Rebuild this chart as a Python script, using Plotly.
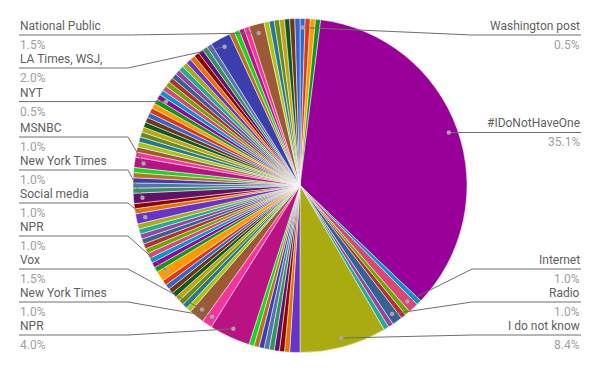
import math
import plotly.graph_objects as go

# ---------------- data ----------------
answers = [
    "Washington post", "Answer 2", "Answer 3", "Answer 4", "#IDoNotHaveOne",
    "Answer 6", "Internet", "Answer 8", "Answer 9", "Radio",
    "Answer 11", "Answer 12", "I do not know", "Answer 14", "Answer 15",
    "Answer 16", "Answer 17", "Answer 18", "Answer 19", "Answer 20",
    "Answer 21", "Answer 22", "NPR", "New York Times", "Vox",
    "Answer 26", "Answer 27", "Answer 28", "Answer 29", "Answer 30",
    "Answer 31", "Answer 32", "Answer 33", "NPR ", "Answer 35",
    "Answer 36", "Answer 37", "Answer 38", "Answer 39", "Answer 40",
    "Answer 41", "Answer 42", "Answer 43", "Answer 44", "Social media",
    "Answer 46", "Answer 47", "New York Times ", "Answer 49", "Answer 50",
    "Answer 51", "Answer 52", "Answer 53", "MSNBC", "Answer 55",
    "Answer 56", "Answer 57", "Answer 58", "Answer 59", "Answer 60",
    "Answer 61", "Answer 62", "Answer 63", "Answer 64", "Answer 65",
    "Answer 66", "NYT", "Answer 68", "Answer 69", "Answer 70",
    "Answer 71", "Answer 72", "Answer 73", "Answer 74", "Answer 75",
    "Answer 76", "Answer 77", "Answer 78", "Answer 79", "Answer 80",
    "Answer 81", "LA Times, WSJ,", "Answer 83", "Answer 84", "Answer 85",
    "Answer 86", "National Public", "Answer 88", "Answer 89", "Answer 90",
    "Answer 91", "Answer 92", "Answer 93", "Answer 94",
]
counts = [
    1, 1, 1, 1, 71,
    1, 2, 1, 1, 2,
    1, 1, 17, 2, 1,
    1, 1, 1, 1, 1,
    1, 1, 8, 2, 3,
    1, 1, 1, 1, 1,
    1, 1, 1, 2, 1,
    1, 1, 1, 1, 1,
    1, 1, 1, 1, 2,
    1, 1, 2, 1, 1,
    1, 1, 1, 2, 1,
    1, 1, 1, 1, 1,
    1, 1, 1, 1, 1,
    1, 1, 1, 1, 1,
    1, 1, 1, 1, 1,
    1, 1, 1, 1, 1,
    1, 4, 1, 1, 1,
    1, 3, 1, 1, 1,
    1, 1, 1, 1,
]
labeled = [
    "Washington post", "#IDoNotHaveOne", "Internet", "Radio", "I do not know",
    "NPR", "New York Times", "Vox", "NPR ", "Social media", "New York Times ",
    "MSNBC", "NYT", "LA Times, WSJ,", "National Public",
]

palette = [
    "#3366cc", "#dc3912", "#ff9900", "#109618", "#990099", "#0099c6", "#dd4477",
    "#66aa00", "#b82e2e", "#316395", "#994499", "#22aa99", "#aaaa11", "#6633cc",
    "#e67300", "#8b0707", "#651067", "#329262", "#5574a6", "#3b3eac", "#b77322",
    "#16d620", "#b91383", "#f4359e", "#9c5935", "#a9c413", "#2a778d", "#668d1c",
    "#bea413", "#0c5922", "#743411",
]

# ---------------- geometry ----------------
W, H = 600, 371
cx, cy, R = 300.0, 185.5, 167.0
DOT_R = 0.946
ELBOW = 5
LEFT_X, RIGHT_X = 19, 581
GAP, YMIN, YMAX = 33, 35, 335
FONT = "Roboto, Arial, sans-serif"
NAME_COLOR = "#5f5f5f"
PCT_COLOR = "#a0a0a0"
LINE_COLOR = "#6e6e6e"
DOT_COLOR = "#a8a8a8"


def px(x):
    return x / W


def py(y):
    return 1 - y / H


colors = [palette[i % len(palette)] for i in range(len(counts))]
total = sum(counts)

fig = go.Figure(
    go.Pie(
        labels=answers,
        values=counts,
        sort=False,
        direction="clockwise",
        rotation=0,
        textinfo="none",
        marker=dict(colors=colors, line=dict(color="white", width=0.5)),
        domain=dict(x=[(cx - R) / W, (cx + R) / W], y=[(H - cy - R) / H, (H - cy + R) / H]),
        showlegend=False,
        hoverinfo="label+value+percent",
    )
)

# compute label anchors
items = []
cum = 0
for lab, c in zip(answers, counts):
    mid = (cum + c / 2) / total
    cum += c
    if lab not in labeled:
        continue
    ang = 2 * math.pi * mid
    dx = cx + DOT_R * R * math.sin(ang)
    dy = cy - DOT_R * R * math.cos(ang)
    side = "right" if math.sin(ang) > 0 else "left"
    items.append(dict(name=lab.strip(), pct=f"{100 * c / total:.1f}%", dx=dx, dy=dy, side=side))


def layout_side(group):
    group.sort(key=lambda d: d["dy"])
    ys = [max(min(d["dy"], YMAX), YMIN) for d in group]
    for i in range(1, len(ys)):
        ys[i] = max(ys[i], ys[i - 1] + GAP)
    ys[-1] = min(ys[-1], YMAX)
    for i in range(len(ys) - 2, -1, -1):
        ys[i] = min(ys[i], ys[i + 1] - GAP)
    for d, y in zip(group, ys):
        d["ly"] = y


shapes = []
annotations = []
for side in ("left", "right"):
    group = [d for d in items if d["side"] == side]
    layout_side(group)
    for d in group:
        L = d["ly"]
        if side == "left":
            ex = cx - R - ELBOW
            x_out, anchor = LEFT_X, "left"
        else:
            ex = cx + R + ELBOW
            x_out, anchor = RIGHT_X, "right"
        line = dict(color=LINE_COLOR, width=1)
        shapes.append(dict(type="line", xref="paper", yref="paper",
                           x0=px(x_out), y0=py(L), x1=px(ex), y1=py(L), line=line))
        shapes.append(dict(type="line", xref="paper", yref="paper",
                           x0=px(ex), y0=py(L), x1=px(d["dx"]), y1=py(d["dy"]), line=line))
        r = 2.2
        shapes.append(dict(type="circle", xref="paper", yref="paper",
                           x0=px(d["dx"] - r), x1=px(d["dx"] + r),
                           y0=py(d["dy"] + r), y1=py(d["dy"] - r),
                           fillcolor=DOT_COLOR, line=dict(width=0)))
        annotations.append(dict(text=d["name"], x=px(x_out), y=py(L - 1), xref="paper", yref="paper",
                                xanchor=anchor, yanchor="bottom", showarrow=False, borderpad=0,
                                font=dict(family=FONT, size=12, color=NAME_COLOR)))
        annotations.append(dict(text=d["pct"], x=px(x_out), y=py(L + 2), xref="paper", yref="paper",
                                xanchor=anchor, yanchor="top", showarrow=False, borderpad=0,
                                font=dict(family=FONT, size=12, color=PCT_COLOR)))

fig.update_layout(
    width=W, height=H,
    margin=dict(l=0, r=0, t=0, b=0),
    paper_bgcolor="white",
    plot_bgcolor="white",
    shapes=shapes,
    annotations=annotations,
    font=dict(family=FONT),
)

fig.write_html("out.html")
